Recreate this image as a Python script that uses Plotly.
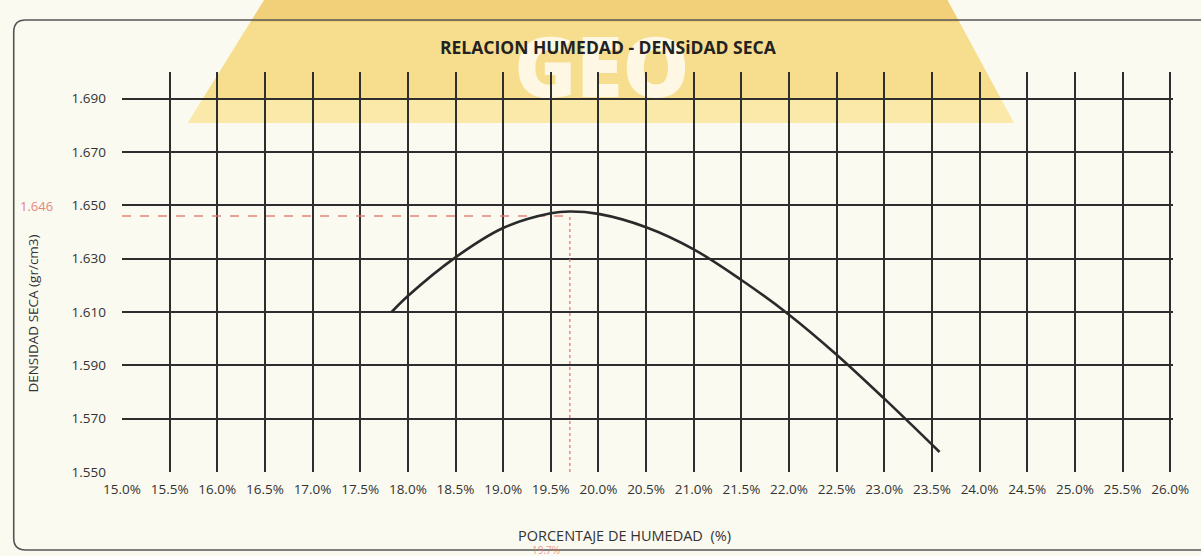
import plotly.graph_objects as go

# Compaction curve: moisture content (fraction) vs. dry density (g/cm3)
humedad = [0.1783, 0.180, 0.185, 0.190, 0.195, 0.197, 0.200, 0.205,
           0.210, 0.215, 0.220, 0.225, 0.230, 0.2358]
densidad = [1.6100, 1.6160, 1.6305, 1.6415, 1.6470, 1.6477, 1.6468, 1.6418,
            1.6335, 1.6220, 1.6090, 1.5940, 1.5775, 1.5575]

# Optimum moisture content and maximum dry density
OMC = 0.197
MDD = 1.646

# Axis ticks
x_tickvals = [0.150, 0.155, 0.160, 0.165, 0.170, 0.175, 0.180, 0.185, 0.190,
              0.195, 0.200, 0.205, 0.210, 0.215, 0.220, 0.225, 0.230, 0.235,
              0.240, 0.245, 0.250, 0.255, 0.260]
x_ticktext = ["15.0%", "15.5%", "16.0%", "16.5%", "17.0%", "17.5%", "18.0%",
              "18.5%", "19.0%", "19.5%", "20.0%", "20.5%", "21.0%", "21.5%",
              "22.0%", "22.5%", "23.0%", "23.5%", "24.0%", "24.5%", "25.0%",
              "25.5%", "26.0%"]
y_tickvals = [1.550, 1.570, 1.590, 1.610, 1.630, 1.650, 1.670, 1.690]
y_ticktext = ["1.550", "1.570", "1.590", "1.610", "1.630", "1.650", "1.670", "1.690"]

TITLE = "RELACION HUMEDAD - DENSiDAD SECA"
X_TITLE = "PORCENTAJE DE HUMEDAD&nbsp;&nbsp;(%)"
Y_TITLE = "DENSIDAD SECA (gr/cm3)"

FONT = "Open Sans"
TEXT = "#333333"
GRID = "#2e2e2e"
RED = "rgba(226,120,108,0.9)"
BG = "#FAFAF1"

# Page geometry (pixels) and helpers to place decorations in paper units
W, H = 1201, 556
L, R, T, B = 122, 21, 72, 84
PW, PH = W - L - R, H - T - B


def px(x):
    return (x - L) / PW


def py(y):
    return (H - B - y) / PH


def trapezoid(y_top, y_bot):
    # band of the logo watermark between two pixel rows
    def left(y):
        return 265 + (188 - 265) * y / 123

    def right(y):
        return 953 + (1020 - 953) * y / 123
    return (f"M {px(left(y_top))},{py(y_top)} L {px(right(y_top))},{py(y_top)} "
            f"L {px(right(y_bot))},{py(y_bot)} L {px(left(y_bot))},{py(y_bot)} Z")


def frame_path():
    r, x0, y0, y1, x1 = 12, 13, 20, 550, 1240
    return (f"M {px(x1)},{py(y0)} L {px(x0 + r)},{py(y0)} "
            f"Q {px(x0)},{py(y0)} {px(x0)},{py(y0 + r)} "
            f"L {px(x0)},{py(y1 - r)} Q {px(x0)},{py(y1)} {px(x0 + r)},{py(y1)} "
            f"L {px(x1)},{py(y1)}")


fig = go.Figure()

# Reference lines at the optimum
fig.add_trace(go.Scatter(x=[x_tickvals[0], OMC], y=[MDD, MDD], mode="lines",
                         line=dict(color=RED, width=1.4, dash="dash"),
                         hoverinfo="skip", showlegend=False))
fig.add_trace(go.Scatter(x=[OMC, OMC], y=[y_tickvals[0], MDD], mode="lines",
                         line=dict(color=RED, width=1.4, dash="dot"),
                         hoverinfo="skip", showlegend=False))

# Compaction curve
fig.add_trace(go.Scatter(x=humedad, y=densidad, mode="lines",
                         line=dict(color="#2a2a2a", width=2.6, shape="spline", smoothing=1.0),
                         showlegend=False))

shapes = [
    dict(type="path", xref="paper", yref="paper", layer="below",
         path=trapezoid(-6, 22), fillcolor="rgb(242,208,122)", line=dict(width=0)),
    dict(type="path", xref="paper", yref="paper", layer="below",
         path=trapezoid(22, 98), fillcolor="rgb(247,222,142)", line=dict(width=0)),
    dict(type="path", xref="paper", yref="paper", layer="below",
         path=trapezoid(98, 123), fillcolor="rgb(250,233,168)", line=dict(width=0)),
    dict(type="rect", xref="paper", yref="paper", layer="below",
         x0=px(510), x1=px(700), y0=py(110), y1=py(30),
         line=dict(width=0), fillcolor="rgba(0,0,0,0)",
         label=dict(text="GEO", textposition="middle center",
                    font=dict(family=FONT, size=84, color="rgba(255,255,255,0.75)", weight=800))),
    dict(type="path", xref="paper", yref="paper", layer="above",
         path=frame_path(), line=dict(color="#555555", width=1.6)),
]

annotations = [
    dict(text=TITLE, xref="paper", yref="paper", x=px(612), y=py(47),
         xanchor="center", yanchor="middle", showarrow=False,
         font=dict(family=FONT, size=17.5, color="#222222", weight="bold")),
    dict(text=X_TITLE, xref="paper", yref="paper", x=px(628), y=py(535),
         xanchor="center", yanchor="middle", showarrow=False,
         font=dict(family=FONT, size=14.5, color=TEXT)),
    dict(text=Y_TITLE, xref="paper", yref="paper", x=px(32), y=py(314),
         xanchor="center", yanchor="middle", showarrow=False, textangle=-90,
         font=dict(family=FONT, size=13.5, color=TEXT)),
    dict(text=f"{MDD:.3f}", xref="paper", yref="y", x=px(36), y=MDD, yshift=10,
         xanchor="center", yanchor="middle", showarrow=False,
         font=dict(family=FONT, size=13, color=RED)),
    dict(text=f"{OMC:.1%}", xref="x", yref="paper", x=OMC, y=py(550), xshift=-24,
         xanchor="center", yanchor="middle", showarrow=False,
         font=dict(family=FONT, size=10, color="rgba(220,120,110,0.75)")),
]

fig.update_layout(
    width=W, height=H,
    margin=dict(l=L, r=R, t=T, b=B, pad=0),
    paper_bgcolor=BG, plot_bgcolor="rgba(0,0,0,0)",
    font=dict(family=FONT, color=TEXT),
    shapes=shapes, annotations=annotations,
    showlegend=False,
    xaxis=dict(range=[0.15, 0.2603], tickmode="array", tickvals=x_tickvals,
               ticktext=x_ticktext, tickangle=0, showgrid=True, gridcolor=GRID,
               gridwidth=1.6, zeroline=False, showline=False, ticks="",
               ticklabelstandoff=7, tickfont=dict(family=FONT, size=13.5, color=TEXT)),
    yaxis=dict(range=[1.55, 1.70], tickmode="array", tickvals=y_tickvals,
               ticktext=y_ticktext, showgrid=True, gridcolor=GRID, gridwidth=1.6,
               zeroline=False, showline=False, ticks="", ticklabelstandoff=15,
               tickfont=dict(family=FONT, size=13.5, color=TEXT)),
)

fig.write_html("out.html")
